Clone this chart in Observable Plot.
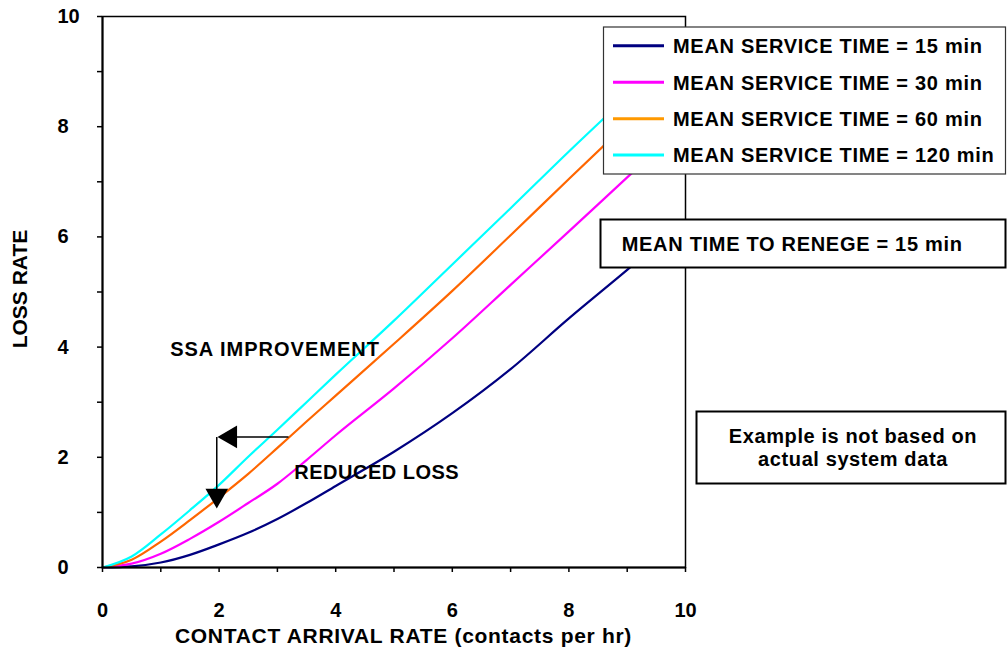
<!DOCTYPE html>
<html>
<head>
<meta charset="utf-8">
<script src="https://cdn.jsdelivr.net/npm/d3@7"></script>
<script src="https://cdn.jsdelivr.net/npm/@observablehq/plot@0.6"></script>
<style>
  html, body { margin: 0; padding: 0; background: #fff; }
  #chart { width: 1008px; height: 654px; }
</style>
</head>
<body>
<div id="chart"></div>
<script>
// ---- data ----
const arrivalRate = [0, 0.5, 1, 1.5, 2, 2.5, 3, 3.5, 4, 5, 6, 7, 8, 9, 10];
const loss15  = [0, 0.02, 0.09, 0.23, 0.42, 0.63, 0.88, 1.17, 1.48, 2.10, 2.80, 3.60, 4.52, 5.40, 6.30];
const loss30  = [0, 0.07, 0.25, 0.52, 0.83, 1.17, 1.52, 1.95, 2.40, 3.25, 4.16, 5.13, 6.10, 7.08, 8.05];
const loss60  = [0, 0.14, 0.47, 0.86, 1.27, 1.70, 2.17, 2.65, 3.12, 4.06, 5.02, 6.03, 7.05, 8.06, 9.05];
const loss120 = [0, 0.20, 0.60, 1.04, 1.50, 2.01, 2.50, 3.00, 3.50, 4.48, 5.50, 6.52, 7.55, 8.55, 9.55];
const seriesNames = ["MEAN SERVICE TIME = 15 min", "MEAN SERVICE TIME = 30 min", "MEAN SERVICE TIME = 60 min", "MEAN SERVICE TIME = 120 min"];
const seriesValues = [loss15, loss30, loss60, loss120];
const xTicks = [0,1,2,3,4,5,6,7,8,9,10];
const yTicks = [0,1,2,3,4,5,6,7,8,9,10];
const yLabelTicks = [0,2,4,6,8,10];
const xTitle = "CONTACT ARRIVAL RATE (contacts per hr)";
const yTitle = "LOSS RATE";
const annoTexts = ["SSA IMPROVEMENT", "REDUCED LOSS"];
const annoTextX = [1.16, 3.29];
const annoTextY = [3.95, 1.73];
// arrow: horizontal from (3.19, 2.37) to tip at 1.97; vertical from 2.37 down to tip at 1.07 (x = 1.96)
const arrowH = {x1: 3.19, x2: 2.1, y: 2.37, tipX: 1.97};
const arrowV = {x: 1.96, y1: 2.37, y2: 1.2, tipY: 1.07};
const renegeText = "MEAN TIME TO RENEGE = 15 min";
const noteLines = ["Example is not based on", "actual system data"];

// ---- styles ----
const lineColors = ["#000080", "#FF00FF", "#FF6600", "#00FFFF"];
const swatchColors = ["#000080", "#FF00FF", "#FF9900", "#00FFFF"];
const FONT = "'Liberation Sans', Arial, Helvetica, sans-serif";

const rows = [];
seriesValues.forEach((vals, s) => vals.forEach((v, i) => rows.push({x: arrivalRate[i], y: v, s})));

const W = 1008, H = 654;
const mL = 102, mR = 323, mT = 16, mB = 87;
const pxPerX = (W - mL - mR) / 10, pxPerY = (H - mT - mB) / 10;

const plot = Plot.plot({
  width: W, height: H,
  marginLeft: mL, marginRight: mR, marginTop: mT, marginBottom: mB,
  style: {fontFamily: FONT, fontSize: "20px", fontWeight: "bold", color: "#000", background: "#fff", overflow: "visible"},
  x: {domain: [0, 10]},
  y: {domain: [0, 10]},
  marks: [
    Plot.line(rows, {x: "x", y: "y", z: "s", stroke: d => lineColors[d.s], strokeWidth: 2.2, curve: "monotone-x"}),
    Plot.frame({stroke: "#000", strokeWidth: 1.5}),
    Plot.ruleX([0], {stroke: "#000", strokeWidth: 2}),
    Plot.ruleY([0], {stroke: "#000", strokeWidth: 2}),
    Plot.axisX({ticks: xTicks, tickSize: 5, tickPadding: 30, tickFormat: d => d % 2 === 0 ? String(d) : "", label: null, stroke: "#000", strokeWidth: 1.5, fontSize: 20, fontWeight: "bold"}),
    Plot.axisY({ticks: yTicks, tickSize: 5, tickFormat: () => "", label: null, stroke: "#000", strokeWidth: 1.5}),
    Plot.axisY({ticks: yLabelTicks, tickSize: 0, tickPadding: 8, textAnchor: "start", dx: -37, label: null, fontSize: 20, fontWeight: "bold"}),
    // arrow annotation
    Plot.link([arrowH], {x1: "x1", x2: "x2", y1: "y", y2: "y", stroke: "#000", strokeWidth: 1.5}),
    Plot.link([arrowV], {x1: "x", x2: "x", y1: "y1", y2: "y2", stroke: "#000", strokeWidth: 1.5}),
    Plot.dot([arrowH], {x: d => d.tipX + 13.2 / pxPerX, y: "y", symbol: "triangle", r: 8.4, rotate: -90, fill: "#000", stroke: "none"}),
    Plot.dot([arrowV], {x: "x", y: d => d.tipY + 13.2 / pxPerY, symbol: "triangle", r: 8.4, rotate: 180, fill: "#000", stroke: "none"}),
    Plot.text([annoTexts[0]], {x: annoTextX[0], y: annoTextY[0], text: d => d, textAnchor: "start", fontSize: 20, fontWeight: "bold", fill: "#000"}),
    Plot.text([annoTexts[1]], {x: annoTextX[1], y: annoTextY[1], text: d => d, textAnchor: "start", fontSize: 20, fontWeight: "bold", fill: "#000"})
  ]
});

document.getElementById("chart").appendChild(plot);

// letter spacing on annotation texts (stretch to match reference widths)
d3.select(plot).selectAll("text").filter(function() { return this.textContent === annoTexts[0]; }).style("letter-spacing", "1px");
d3.select(plot).selectAll("text").filter(function() { return this.textContent === annoTexts[1]; }).style("letter-spacing", "0.5px");

// ---- overlays: legend, boxes and axis titles ----
const svg = d3.select(plot);
const g = svg.append("g").attr("font-family", FONT).attr("font-weight", "bold").attr("fill", "#000").attr("text-anchor", "start");

// x title
g.append("text").attr("x", 403.5).attr("y", 643).attr("text-anchor", "middle")
  .attr("font-size", 21).style("letter-spacing", "0.7px").text(xTitle);
// y title
g.append("text").attr("transform", "translate(27,289) rotate(-90)").attr("text-anchor", "middle")
  .attr("font-size", 21).text(yTitle);

// legend box
const lg = g.append("g");
lg.append("rect").attr("x", 603.5).attr("y", 27).attr("width", 402).attr("height", 147)
  .attr("fill", "#fff").attr("stroke", "#333").attr("stroke-width", 1.2);
const legY = [45.7, 82.3, 118.7, 155];
seriesNames.forEach((name, i) => {
  lg.append("line").attr("x1", 613).attr("x2", 664).attr("y1", legY[i]).attr("y2", legY[i])
    .attr("stroke", swatchColors[i]).attr("stroke-width", 3);
  lg.append("text").attr("x", 673).attr("y", legY[i] + 7.2).attr("font-size", 20).attr("text-anchor", "start")
    .style("letter-spacing", "0.7px").text(name);
});

// renege box
g.append("rect").attr("x", 600.5).attr("y", 219.5).attr("width", 405).attr("height", 48)
  .attr("fill", "#fff").attr("stroke", "#000").attr("stroke-width", 2);
g.append("text").attr("x", 621.7).attr("y", 250.5).attr("font-size", 20).attr("text-anchor", "start")
  .style("letter-spacing", "0.7px").text(renegeText);

// note box
g.append("rect").attr("x", 696.5).attr("y", 411.5).attr("width", 309).attr("height", 72)
  .attr("fill", "#fff").attr("stroke", "#000").attr("stroke-width", 2);
noteLines.forEach((t, i) => {
  g.append("text").attr("x", 853).attr("y", [442.7, 466.3][i]).attr("text-anchor", "middle")
    .attr("font-size", 20).style("letter-spacing", "0.6px").text(t);
});
</script>
</body>
</html>
